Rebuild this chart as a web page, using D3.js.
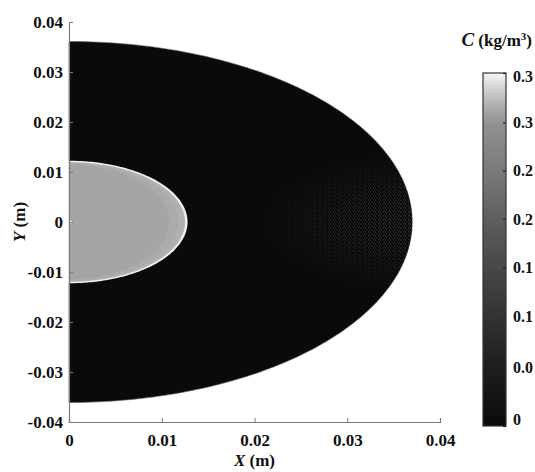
<!DOCTYPE html>
<html><head><meta charset="utf-8">
<script src="https://cdn.jsdelivr.net/npm/d3@7"></script>
<style>
html,body{margin:0;padding:0;background:#fff;}
svg{display:block;}
text{font-family:"Liberation Serif","Times New Roman",serif;font-weight:bold;fill:#111;}
</style></head>
<body>
<svg id="chart" width="535" height="472"></svg>
<script>
// ---- data ----
const xTicks = [0, 0.01, 0.02, 0.03, 0.04];
const xTickLabels = ["0", "0.01", "0.02", "0.03", "0.04"];
const yTicks = [0.04, 0.03, 0.02, 0.01, 0, -0.01, -0.02, -0.03, -0.04];
const yTickLabels = ["0.04", "0.03", "0.02", "0.01", "0", "-0.01", "-0.02", "-0.03", "-0.04"];
const outerSemiAxes = [0.037, 0.0361];     // domain half-ellipse (a, b) in m
const innerSemiAxes = [0.0127, 0.0121];    // droplet half-ellipse (a, b) in m
const innerBandScaleX = [1.0, 0.985, 0.93, 0.85];  // relative x-size of concentration bands
const innerBandScaleY = [1.0, 0.99, 0.975, 0.95];  // relative y-size of concentration bands
const innerBandConc = [0.297, 0.273, 0.270, 0.267]; // C (kg/m3) per band
const outerConc = 0.0;
const cbDomain = [0, 0.3];
const cmapFrac = [0, 0.17, 0.31, 0.45, 0.59, 0.72, 0.86, 0.93, 1];     // colormap stops (fraction)
const cmapGray = [10, 30, 51, 72, 95, 122, 146, 190, 246];             // colormap grey level
const cbTicks = [0, 0.05, 0.093, 0.135, 0.176, 0.217, 0.258, 0.3];
const cbTickLabels = ["0", "0.0", "0.1", "0.1", "0.2", "0.2", "0.3", "0.3"];

// ---- layout ----
const svg = d3.select("#chart");
const x = d3.scaleLinear().domain([0, 0.04]).range([69, 440]);
const y = d3.scaleLinear().domain([-0.04, 0.04]).range([422, 22]);
const frac = d3.scaleLinear().domain(cbDomain).range([0, 1]).clamp(true);
const gscale = d3.scaleLinear().domain(cmapFrac).range(cmapGray).clamp(true);
const grayRGB = v => { const g = Math.round(gscale(frac(v))); return `rgb(${g},${g},${g})`; };

function halfEllipse(a, b) {
  const pts = d3.range(-90, 90.5, 1).map(t => [a * Math.cos(t * Math.PI / 180), b * Math.sin(t * Math.PI / 180)]);
  return d3.line().x(d => x(d[0])).y(d => y(d[1]))(pts) + "Z";
}

const defs = svg.append("defs");
// fine speckle pattern for the faint wake region
const pat = defs.append("pattern").attr("id", "speck").attr("patternUnits", "userSpaceOnUse")
  .attr("width", 5).attr("height", 4);
pat.append("rect").attr("width", 5).attr("height", 4).attr("fill", grayRGB(outerConc));
[[0,0,"#3a3a3a"],[3,0,"#262626"],[1,1,"#2e2e2e"],[4,2,"#3f3f3f"],[2,2,"#222"],[0,3,"#2a2a2a"],[3,3,"#333"]].forEach(p => {
  pat.append("rect").attr("x", p[0]).attr("y", p[1]).attr("width", 1).attr("height", 1).attr("fill", p[2]);
});
const wcx = x(outerSemiAxes[0]), wcy = y(0);
const rg = defs.append("radialGradient").attr("id", "wakeFade").attr("gradientUnits", "userSpaceOnUse")
  .attr("cx", wcx).attr("cy", wcy).attr("r", 155).attr("fx", wcx).attr("fy", wcy)
  .attr("gradientTransform", `translate(${wcx},${wcy}) scale(1,0.46) translate(${-wcx},${-wcy})`);
rg.append("stop").attr("offset", "0").attr("stop-color", "#fff").attr("stop-opacity", 1);
rg.append("stop").attr("offset", "0.45").attr("stop-color", "#fff").attr("stop-opacity", 0.65);
rg.append("stop").attr("offset", "0.8").attr("stop-color", "#fff").attr("stop-opacity", 0.25);
rg.append("stop").attr("offset", "1").attr("stop-color", "#fff").attr("stop-opacity", 0);
const mask = defs.append("mask").attr("id", "wakeMask").attr("maskUnits", "userSpaceOnUse")
  .attr("x", 0).attr("y", 0).attr("width", 535).attr("height", 472);
mask.append("rect").attr("x", 0).attr("y", 0).attr("width", 535).attr("height", 472).attr("fill", "url(#wakeFade)");
defs.append("clipPath").attr("id", "outerClip").append("path").attr("d", halfEllipse(outerSemiAxes[0], outerSemiAxes[1]));

// outer domain
svg.append("path").attr("d", halfEllipse(outerSemiAxes[0], outerSemiAxes[1]))
  .attr("fill", grayRGB(outerConc)).attr("stroke", "#666").attr("stroke-width", 0.6);
svg.append("g").attr("clip-path", "url(#outerClip)")
  .append("rect").attr("x", x(0.02)).attr("y", y(0.016)).attr("width", x(0.038) - x(0.02)).attr("height", y(-0.016) - y(0.016))
  .attr("fill", "url(#speck)").attr("mask", "url(#wakeMask)");

// inner droplet bands
innerBandConc.forEach((c, i) => {
  svg.append("path").attr("d", halfEllipse(innerSemiAxes[0] * innerBandScaleX[i], innerSemiAxes[1] * innerBandScaleY[i]))
    .attr("fill", grayRGB(c))
    .attr("stroke", i === 0 ? "#f2f2f2" : "none").attr("stroke-width", i === 0 ? 1.5 : 0);
});
svg.append("circle").attr("cx", x(0) + 1.5).attr("cy", y(0)).attr("r", 1.5).attr("fill", "#f4f4f4");

// axes
const axCol = "#7a7a7a";
const xAxis = svg.append("g").attr("transform", `translate(0,${y(-0.04)})`)
  .call(d3.axisBottom(x).tickValues(xTicks).tickFormat((d, i) => xTickLabels[i]).tickSizeInner(-4).tickSizeOuter(-4).tickPadding(12));
const yAxis = svg.append("g").attr("transform", `translate(${x(0)},0)`)
  .call(d3.axisLeft(y).tickValues(yTicks).tickFormat((d, i) => yTickLabels[i]).tickSizeInner(-4).tickSizeOuter(-4).tickPadding(6));
[xAxis, yAxis].forEach(g => {
  g.select(".domain").attr("stroke", axCol).attr("stroke-width", 1.2);
  g.selectAll(".tick line").attr("stroke", axCol).attr("stroke-width", 1);
  g.selectAll("text").attr("font-family", '"Liberation Serif","Times New Roman",serif').attr("font-weight", "bold")
    .attr("font-size", 17).attr("fill", "#111");
});
yAxis.selectAll(".tick text").attr("dy", "0.34em");

// axis titles
const xt = svg.append("text").attr("x", x(0.02)).attr("y", 466).attr("text-anchor", "middle").attr("font-size", 17);
xt.append("tspan").attr("font-style", "italic").text("X");
xt.append("tspan").text(" (m)");
const yt = svg.append("text").attr("transform", `translate(25,${y(0)}) rotate(-90)`).attr("text-anchor", "middle").attr("font-size", 17);
yt.append("tspan").attr("font-style", "italic").text("Y");
yt.append("tspan").text(" (m)");

// colorbar
const cbX = 483, cbW = 23, cbTop = 73, cbBot = 426;
const cy = d3.scaleLinear().domain(cbDomain).range([cbBot, cbTop]);
const lg = defs.append("linearGradient").attr("id", "cbGrad").attr("x1", 0).attr("y1", 1).attr("x2", 0).attr("y2", 0);
d3.range(0, 1.0001, 0.025).forEach(t => {
  const v = cbDomain[0] + t * (cbDomain[1] - cbDomain[0]);
  lg.append("stop").attr("offset", t).attr("stop-color", grayRGB(v));
});
svg.append("rect").attr("x", cbX).attr("y", cbTop).attr("width", cbW).attr("height", cbBot - cbTop)
  .attr("fill", "url(#cbGrad)").attr("stroke", "#333").attr("stroke-width", 1.2);
const cbAxis = svg.append("g").attr("transform", `translate(${cbX + cbW},0)`)
  .call(d3.axisRight(cy).tickValues(cbTicks).tickFormat((d, i) => cbTickLabels[i]).tickSizeInner(-3).tickSizeOuter(0).tickPadding(7));
cbAxis.select(".domain").remove();
cbAxis.selectAll(".tick line").attr("stroke", "#222").attr("stroke-width", 1.2);
cbAxis.selectAll("text").attr("font-family", '"Liberation Serif","Times New Roman",serif').attr("font-weight", "bold")
  .attr("font-size", 16).attr("fill", "#111");
cbAxis.selectAll(".tick").filter(d => d === 0).select("text").attr("dy", "-0.1em");
cbAxis.selectAll(".tick").filter(d => d === 0.3).select("text").attr("dy", "0.5em");

const ct = svg.append("text").attr("x", 532).attr("y", 46).attr("text-anchor", "end").attr("font-size", 17);
ct.append("tspan").attr("font-style", "italic").attr("font-size", 19).text("C");
ct.append("tspan").text(" (kg/m");
ct.append("tspan").attr("font-size", 11).attr("dy", -6).text("3");
ct.append("tspan").attr("dy", 6).text(")");
</script>
</body></html>
